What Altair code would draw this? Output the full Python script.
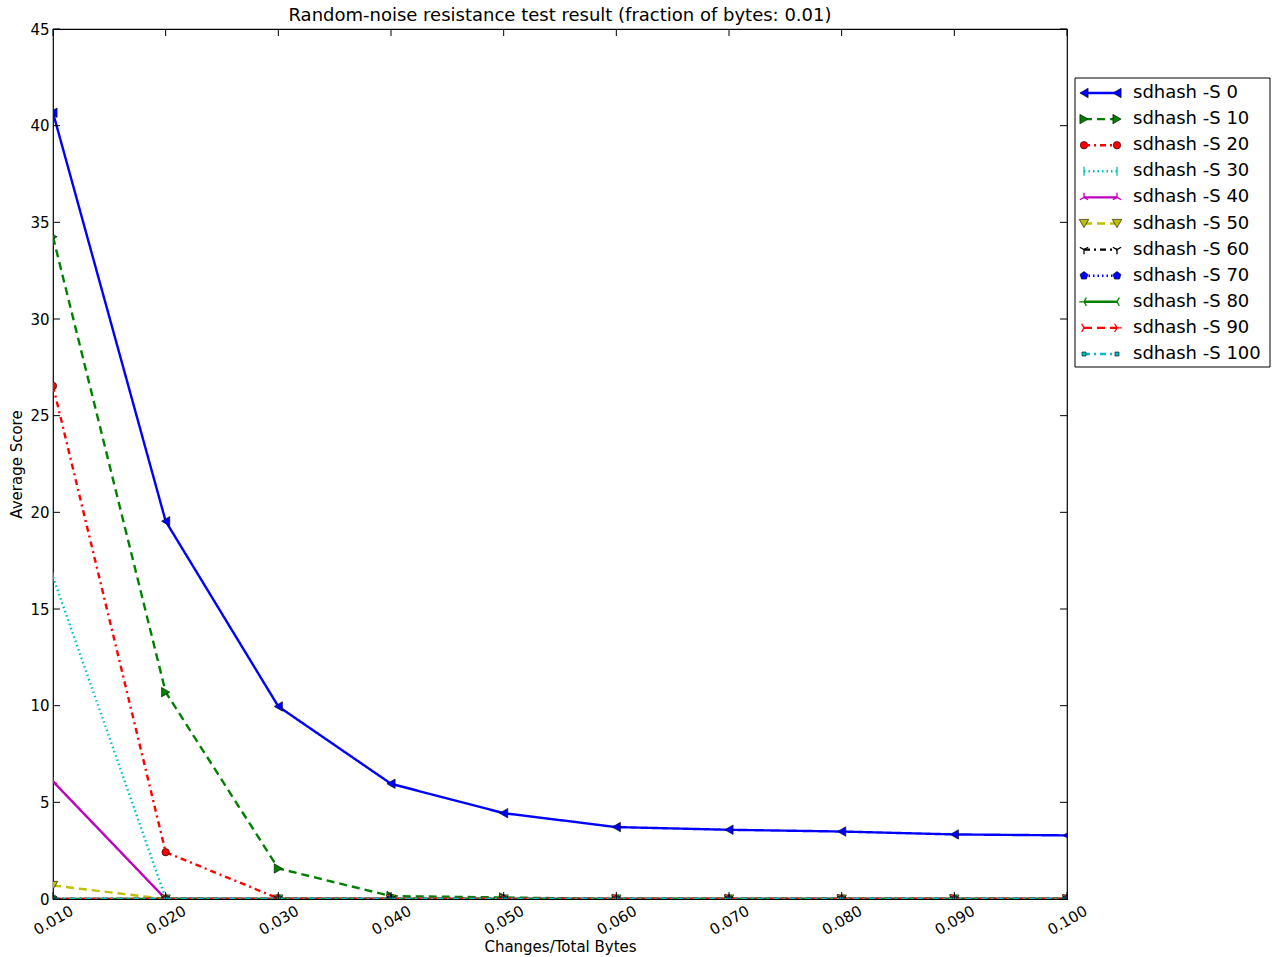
import altair as alt
import pandas as pd

# Fraction of changed bytes (x axis)
x_vals = [0.01, 0.02, 0.03, 0.04, 0.05, 0.06, 0.07, 0.08, 0.09, 0.10]

series_names = [
    "sdhash -S 0", "sdhash -S 10", "sdhash -S 20", "sdhash -S 30",
    "sdhash -S 40", "sdhash -S 50", "sdhash -S 60", "sdhash -S 70",
    "sdhash -S 80", "sdhash -S 90", "sdhash -S 100",
]

# Average score per setting
s0 = [40.67, 19.54, 9.96, 5.96, 4.44, 3.72, 3.58, 3.49, 3.34, 3.29]
s10 = [34.25, 10.70, 1.58, 0.15, 0.08, 0.0, 0.0, 0.0, 0.0, 0.0]
s20 = [26.54, 2.42, 0.03, 0.0, 0.0, 0.0, 0.0, 0.0, 0.0, 0.0]
s30 = [16.66, 0.05, 0.0, 0.0, 0.0, 0.0, 0.0, 0.0, 0.0, 0.0]
s40 = [6.08, 0.0, 0.0, 0.0, 0.0, 0.0, 0.0, 0.0, 0.0, 0.0]
s50 = [0.70, 0.0, 0.0, 0.0, 0.0, 0.0, 0.0, 0.0, 0.0, 0.0]
s60 = [0.0, 0.0, 0.0, 0.0, 0.0, 0.0, 0.0, 0.0, 0.0, 0.0]
s70 = [0.0, 0.0, 0.0, 0.0, 0.0, 0.0, 0.0, 0.0, 0.0, 0.0]
s80 = [0.0, 0.0, 0.0, 0.0, 0.0, 0.0, 0.0, 0.0, 0.0, 0.0]
s90 = [0.0, 0.0, 0.0, 0.0, 0.0, 0.0, 0.0, 0.0, 0.0, 0.0]
s100 = [0.0, 0.0, 0.0, 0.0, 0.0, 0.0, 0.0, 0.0, 0.0, 0.0]
all_scores = [s0, s10, s20, s30, s40, s50, s60, s70, s80, s90, s100]

y_ticks = [0, 5, 10, 15, 20, 25, 30, 35, 40, 45]

# Line styles (classic colour / dash cycles)
colors = ["#0000ff", "#008000", "#ff0000", "#00bfbf", "#bf00bf", "#bfbf00",
          "#000000", "#0000ff", "#008000", "#ff0000", "#00bfbf"]
SOLID, DASHED, DASHDOT, DOTTED = [1, 0], [8, 5], [6, 4, 2, 4], [1.5, 3]
dashes = [SOLID, DASHED, DASHDOT, DOTTED, SOLID, DASHED, DASHDOT, DOTTED,
          SOLID, DASHED, DASHDOT]

PENTAGON = "M0,-1L0.951,-0.309L0.588,0.809L-0.588,0.809L-0.951,-0.309Z"
VLINE = "M0,-1L0,1"
TRI_UP = "M0,0L0,-1M0,0L-0.87,0.5M0,0L0.87,0.5"
TRI_DOWN = "M0,0L0,1M0,0L-0.87,-0.5M0,0L0.87,-0.5"
TRI_LEFT = "M0,0L-1,0M0,0L0.5,-0.87M0,0L0.5,0.87"
TRI_RIGHT = "M0,0L1,0M0,0L-0.5,-0.87M0,0L-0.5,0.87"
# (shape, filled, size)
markers = [
    ("triangle-left", True, 90), ("triangle-right", True, 90), ("circle", True, 55),
    (VLINE, False, 80), (TRI_UP, False, 90), ("triangle-down", True, 90),
    (TRI_DOWN, False, 90), (PENTAGON, True, 70), (TRI_LEFT, False, 90),
    (TRI_RIGHT, False, 90), ("square", True, 16),
]

rows = []
for name, vals in zip(series_names, all_scores):
    for xv, v in zip(x_vals, vals):
        rows.append({"series": name, "x": xv, "score": v})
df = pd.DataFrame(rows)
legend_df = pd.DataFrame({"series": series_names})

FONT = "DejaVu Sans"
W, H = 1014, 870

x_enc = alt.X(
    "x:Q",
    title="Changes/Total Bytes",
    scale=alt.Scale(domain=[0.01, 0.10], nice=False, zero=False),
    axis=alt.Axis(values=x_vals, format=".3f", labelAngle=330, labelAlign="center",
                  labelBaseline="middle", labelPadding=21, ticks=False, domain=False,
                  grid=False, labelFontSize=15, titleFontSize=15, titleFontWeight="normal",
                  titlePadding=2, labelColor="black", titleColor="black"),
)
y_enc = alt.Y(
    "score:Q",
    title="Average Score",
    scale=alt.Scale(domain=[0, 45], nice=False, zero=True),
    axis=alt.Axis(values=y_ticks, ticks=False, domain=False, grid=False,
                  labelFontSize=15, labelPadding=4, titleFontSize=15,
                  titleFontWeight="normal", titlePadding=5, labelColor="black",
                  titleColor="black"),
)

base = alt.Chart(df).encode(x=x_enc, y=y_enc)

plot_layers = []
for i, name in enumerate(series_names):
    shape, filled, size = markers[i]
    sub = base.transform_filter(alt.datum.series == name)
    plot_layers.append(
        sub.mark_line(color=colors[i], strokeDash=dashes[i], strokeWidth=2.4,
                      strokeCap="butt", clip=True)
    )
    if filled:
        pt = sub.mark_point(shape=shape, filled=True, fill=colors[i], stroke="black",
                            strokeWidth=0.6, size=size, opacity=1, clip=True)
    else:
        pt = sub.mark_point(shape=shape, filled=False, stroke=colors[i],
                            strokeWidth=1.3, size=size, opacity=1, clip=True)
    plot_layers.append(pt)

# Inward tick marks on all four sides
xt = alt.Chart(pd.DataFrame({"x": x_vals}))
yt = alt.Chart(pd.DataFrame({"score": y_ticks}))
tick_style = dict(color="black", strokeWidth=1)
plot_layers += [
    xt.mark_rule(**tick_style).encode(x=x_enc, y=alt.value(H), y2=alt.value(H - 7)),
    xt.mark_rule(**tick_style).encode(x=x_enc, y=alt.value(0), y2=alt.value(7)),
    yt.mark_rule(**tick_style).encode(y=y_enc, x=alt.value(0), x2=alt.value(7)),
    yt.mark_rule(**tick_style).encode(y=y_enc, x=alt.value(W), x2=alt.value(W - 7)),
]

main = alt.layer(*plot_layers)

# Legend box to the right of the plot
leg_y = alt.Y("series:N", axis=None,
              scale=alt.Scale(type="point", domain=series_names, range=[64, 325], padding=0))
LX0, LX1, LTX = 1031, 1064, 1080

leg_layers = [
    alt.Chart(pd.DataFrame({"box": [0]})).mark_rect(
        fill="white", stroke="black", strokeWidth=1
    ).encode(x=alt.value(1022), x2=alt.value(1217), y=alt.value(49), y2=alt.value(338))
]
leg_base = alt.Chart(legend_df)
for i, name in enumerate(series_names):
    shape, filled, size = markers[i]
    sub = leg_base.transform_filter(alt.datum.series == name)
    leg_layers.append(
        sub.mark_rule(color=colors[i], strokeDash=dashes[i], strokeWidth=2.4,
                      strokeCap="butt").encode(y=leg_y, x=alt.value(LX0), x2=alt.value(LX1))
    )
    for lx in (LX0, LX1):
        if filled:
            pt = sub.mark_point(shape=shape, filled=True, fill=colors[i], stroke="black",
                                strokeWidth=0.6, size=size, opacity=1)
        else:
            pt = sub.mark_point(shape=shape, filled=False, stroke=colors[i],
                                strokeWidth=1.3, size=size, opacity=1)
        leg_layers.append(pt.encode(y=leg_y, x=alt.value(lx)))
leg_layers.append(
    leg_base.mark_text(align="left", baseline="middle", fontSize=18, font=FONT,
                       color="black").encode(y=leg_y, x=alt.value(LTX), text="series:N")
)
legend = alt.layer(*leg_layers)

chart = alt.layer(main, legend).resolve_scale(y="independent").properties(
    width=W,
    height=H,
    title=alt.TitleParams(
        "Random-noise resistance test result (fraction of bytes: 0.01)",
        fontSize=18, fontWeight="normal", font=FONT, anchor="middle", offset=-3,
        color="black",
    ),
    autosize=alt.AutoSizeParams(type="none"),
    padding={"left": 53, "top": 29, "right": 205, "bottom": 58},
).configure(
    font=FONT,
    background="white",
).configure_view(
    stroke="black", strokeWidth=1.2,
).configure_axis(
    labelFont=FONT, titleFont=FONT,
)

chart.save("out.html", embed_options={"renderer": "svg", "actions": False})
